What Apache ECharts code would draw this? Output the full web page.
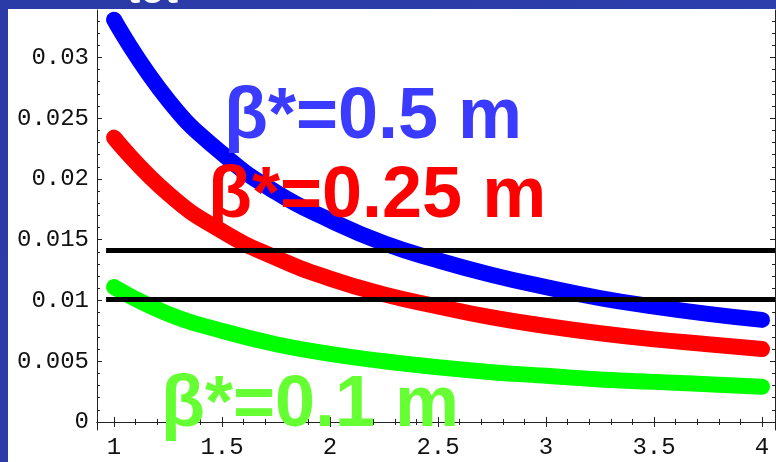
<!DOCTYPE html>
<html>
<head>
<meta charset="utf-8">
<script src="https://cdn.jsdelivr.net/npm/echarts@6/dist/echarts.min.js"></script>
<style>
  html, body { margin: 0; padding: 0; }
  #chart { width: 776px; height: 462px; }
</style>
</head>
<body>
<div id="chart"></div>
<script>
const xs = [1, 1.25, 1.5, 1.75, 2, 2.25, 2.5, 2.75, 3, 3.25, 3.5, 3.75, 4];
// beta* = 0.5 m
const blueVals = [0.0331, 0.0265, 0.0221, 0.0189, 0.0166, 0.0147, 0.0133, 0.0121, 0.0111, 0.0102, 0.0095, 0.0089, 0.0084];
// beta* = 0.25 m
const redVals = [0.0234, 0.0188, 0.0157, 0.0135, 0.0118, 0.0105, 0.0095, 0.0086, 0.0079, 0.0073, 0.0068, 0.0064, 0.0060];
// beta* = 0.1 m
const greenVals = [0.0111, 0.0089, 0.0075, 0.0064, 0.0056, 0.0050, 0.0045, 0.0041, 0.0038, 0.0035, 0.0033, 0.0031, 0.0029];
// horizontal reference lines
const hLines = [0.0141, 0.0101];
// tick labels
const xMajor = [1, 1.5, 2, 2.5, 3, 3.5, 4];
const yMajor = [0, 0.005, 0.01, 0.015, 0.02, 0.025, 0.03];

const X_MIN = 0.921, X_MAX = 4.06;
const Y_MIN = -0.00066, Y_MAX = 0.0339;

const xMinor = [];
for (let i = 10; i <= 40; i++) xMinor.push(i / 10);
const yMinor = [];
for (let i = 0; i <= 33; i++) yMinor.push(i / 1000);

const pair = (vals) => xs.map((x, i) => [x, vals[i]]);

const tickFont = { fontFamily: 'Liberation Mono', fontSize: 24, color: '#111' };
const frameLine = { show: true, lineStyle: { color: '#222', width: 1 } };

const makeX = (pos, values, len, withLine, withLabel) => ({
  type: 'value', position: pos, min: X_MIN, max: X_MAX,
  axisLine: withLine ? frameLine : { show: false },
  splitLine: { show: false },
  axisTick: { show: true, inside: true, length: len, customValues: values, lineStyle: { color: '#222' } },
  axisLabel: withLabel ? Object.assign({ show: true, customValues: values, margin: 6 }, tickFont) : { show: false }
});
const makeY = (pos, values, len, withLine, withLabel) => ({
  type: 'value', position: pos, min: Y_MIN, max: Y_MAX,
  axisLine: withLine ? frameLine : { show: false },
  splitLine: { show: false },
  axisTick: { show: true, inside: true, length: len, customValues: values, lineStyle: { color: '#222' } },
  axisLabel: withLabel ? Object.assign({ show: true, customValues: values, margin: 8 }, tickFont) : { show: false }
});

const curve = (name, vals, color) => ({
  name: name,
  type: 'line',
  data: pair(vals),
  smooth: true,
  showSymbol: false,
  silent: true,
  lineStyle: { color: color, width: 16, cap: 'round', join: 'round' },
  z: 3
});

const option = {
  backgroundColor: {
    type: 'linear', x: 0, y: 0, x2: 1, y2: 1,
    colorStops: [{ offset: 0, color: '#2a3aa6' }, { offset: 1, color: '#2d40ad' }]
  },
  animation: false,
  grid: { left: 97, right: 1, top: 10, bottom: 32 },
  xAxis: [
    makeX('bottom', xMajor, 5, true, true),
    makeX('bottom', xMinor, 3, false, false),
    makeX('top', xMajor, 5, true, false),
    makeX('top', xMinor, 3, false, false)
  ],
  yAxis: [
    makeY('left', yMajor, 5, true, true),
    makeY('left', yMinor, 3, false, false),
    makeY('right', yMajor, 5, true, false),
    makeY('right', yMinor, 3, false, false)
  ],
  series: [
    curve('β*=0.5 m', blueVals, '#0000ff'),
    curve('β*=0.25 m', redVals, '#ff0000'),
    curve('β*=0.1 m', greenVals, '#00ff00'),
    {
      type: 'line',
      data: [],
      z: 5,
      markLine: {
        silent: true,
        symbol: ['none', 'none'],
        label: { show: false },
        lineStyle: { color: '#000', width: 5, type: 'solid' },
        data: hLines.map(v => [{ coord: [0.963, v] }, { coord: [X_MAX, v] }])
      }
    }
  ],
  graphic: [
    { type: 'rect', z: -100, shape: { x: 8, y: 9, width: 800, height: 500 }, style: { fill: '#fff' } },
    { type: 'text', z: 100, style: { text: 'tot', x: 127, y: 12, verticalAlign: 'bottom', font: 'bold 40px "Liberation Sans"', fill: '#fff' } },
    { type: 'text', z: 100, style: { text: 'β*=0.5 m', x: 224, y: 118, verticalAlign: 'middle', font: 'bold 72px "Liberation Sans"', fill: '#3b3bff' } },
    { type: 'text', z: 100, style: { text: 'β*=0.25 m', x: 208, y: 197, verticalAlign: 'middle', font: 'bold 72px "Liberation Sans"', fill: '#ff0000' } },
    { type: 'text', z: 100, style: { text: 'β*=0.1 m', x: 161, y: 406, verticalAlign: 'middle', font: 'bold 72px "Liberation Sans"', fill: '#66ff33' } }
  ]
};

const myChart = echarts.init(document.getElementById('chart'));
myChart.setOption(option);
</script>
</body>
</html>
